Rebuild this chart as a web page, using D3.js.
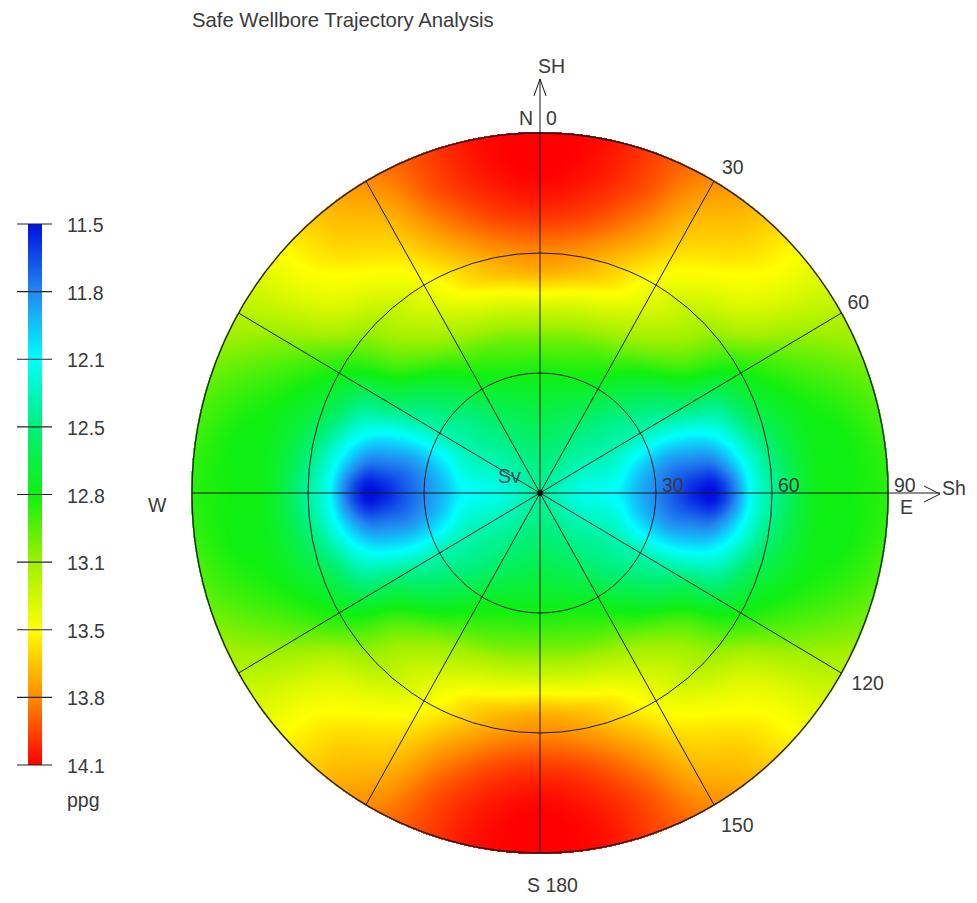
<!DOCTYPE html>
<html><head><meta charset="utf-8">
<script src="https://cdn.jsdelivr.net/npm/d3@7"></script>
<style>
body{margin:0;background:#fff;}
svg{display:block;font-family:"Liberation Sans",Arial,sans-serif;}
</style>
</head><body>
<svg id="chart" width="977" height="903"></svg>
<script>
// ---------- data ----------
const chartTitle = "Safe Wellbore Trajectory Analysis";
const colorTicks = [11.5, 11.8, 12.1, 12.5, 12.8, 13.1, 13.5, 13.8, 14.1];
const colorTickLabels = ["11.5", "11.8", "12.1", "12.5", "12.8", "13.1", "13.5", "13.8", "14.1"];
const colorStops = ["#0010e0", "#2288f0", "#00ffff", "#00f07a", "#10f010", "#a0f000", "#ffff00", "#ff8c00", "#ff0000"];
const unitLabel = "ppg";

// mud weight (ppg): azimuth from SH/North (one quadrant, mirrored) x inclination (deg)
const azimuths = [0, 10, 20, 30, 40, 50, 60, 70, 80, 90];
const inclinations = [0, 10, 20, 25, 30, 35, 40, 45, 50, 55, 60, 70, 80, 90];
const inc0  = [12.4, 12.4, 12.4, 12.4, 12.4, 12.4, 12.4, 12.4, 12.4, 12.4];
const inc10 = [12.5, 12.5, 12.48, 12.45, 12.4, 12.35, 12.3, 12.25, 12.2, 12.2];
const inc20 = [12.65, 12.63, 12.6, 12.55, 12.47, 12.42, 12.33, 12.25, 12.15, 12.08];
const inc25 = [12.72, 12.71, 12.68, 12.62, 12.52, 12.42, 12.33, 12.13, 11.98, 11.93];
const inc30 = [12.8, 12.8, 12.78, 12.72, 12.6, 12.48, 12.33, 12.05, 11.86, 11.8];
const inc35 = [12.92, 12.91, 12.88, 12.82, 12.7, 12.55, 12.36, 12.02, 11.77, 11.68];
const inc40 = [13.05, 13.03, 13.0, 12.95, 12.82, 12.65, 12.45, 12.05, 11.76, 11.55];
const inc45 = [13.25, 13.22, 13.18, 13.1, 12.98, 12.8, 12.55, 12.13, 11.78, 11.5];
const inc50 = [13.5, 13.45, 13.38, 13.25, 13.1, 12.92, 12.6, 12.27, 11.98, 11.75];
const inc55 = [13.7, 13.65, 13.55, 13.38, 13.2, 12.98, 12.7, 12.5, 12.25, 12.15];
const inc60 = [13.8, 13.75, 13.62, 13.45, 13.25, 13.05, 12.8, 12.65, 12.5, 12.4];
const inc70 = [14.0, 13.95, 13.8, 13.6, 13.47, 13.3, 12.97, 12.8, 12.75, 12.75];
const inc80 = [14.1, 14.05, 13.92, 13.7, 13.6, 13.42, 13.1, 12.9, 12.8, 12.8];
const inc90 = [14.1, 14.08, 13.95, 13.8, 13.65, 13.45, 13.2, 13.0, 12.9, 12.85];
const mudWeight = [inc0, inc10, inc20, inc25, inc30, inc35, inc40, inc45, inc50, inc55, inc60, inc70, inc80, inc90];

const spokeAngles = [0, 30, 60, 90, 120, 150, 180, 210, 240, 270, 300, 330];
const ringInclinations = [30, 60, 90];
const rimLabels = [
  {az: 30, text: "30"}, {az: 60, text: "60"}, {az: 120, text: "120"}, {az: 150, text: "150"}
];

// ---------- layout ----------
const cx = 540, cy = 493;
const rX = d3.scaleLinear().domain([0, 90]).range([0, 348]);
const rY = d3.scaleLinear().domain([0, 90]).range([0, 360]);
const color = d3.scaleLinear().domain(colorTicks).range(colorStops).interpolate(d3.interpolateRgb).clamp(true);

const svg = d3.select("#chart");
const textColor = "#3a3a3a";

// ---------- smooth field (cubic Hermite through the grid values) ----------
function tangents(t, v, zeroEnds) {
  const n = t.length, m = new Array(n);
  for (let k = 0; k < n; k++) {
    if (k === 0) m[k] = zeroEnds ? 0 : (v[1] - v[0]) / (t[1] - t[0]);
    else if (k === n - 1) m[k] = zeroEnds ? 0 : (v[n - 1] - v[n - 2]) / (t[n - 1] - t[n - 2]);
    else m[k] = (v[k + 1] - v[k - 1]) / (t[k + 1] - t[k - 1]);
  }
  return m;
}
function hermite(t, v, m, x) {
  let k = Math.min(Math.max(d3.bisectRight(t, x) - 1, 0), t.length - 2);
  const h = t[k + 1] - t[k], s = Math.max(0, Math.min(1, (x - t[k]) / h));
  const s2 = s * s, s3 = s2 * s;
  return (2 * s3 - 3 * s2 + 1) * v[k] + (s3 - 2 * s2 + s) * h * m[k] + (-2 * s3 + 3 * s2) * v[k + 1] + (s3 - s2) * h * m[k + 1];
}
const rowTangents = mudWeight.map(row => tangents(azimuths, row, true));
function valueAt(az, inc) {
  let a = ((az % 360) + 360) % 360;
  if (a > 180) a = 360 - a;
  if (a > 90) a = 180 - a;
  const col = mudWeight.map((row, r) => hermite(azimuths, row, rowTangents[r], a));
  const mt = tangents(inclinations, col, false);
  return hermite(inclinations, col, mt, inc);
}

const W = Math.ceil(rX(90) * 2) + 2, H = Math.ceil(rY(90) * 2) + 2;
const canvas = document.createElement("canvas");
canvas.width = W; canvas.height = H;
const ctx = canvas.getContext("2d");
const img = ctx.createImageData(W, H);
const ox = cx - W / 2, oy = cy - H / 2;
for (let py = 0; py < H; py++) {
  for (let px = 0; px < W; px++) {
    const X = ox + px + 0.5 - cx, Y = cy - (oy + py + 0.5);
    const dx = rX.invert(X), dy = rY.invert(Y);
    const inc = Math.sqrt(dx * dx + dy * dy);
    if (inc > 90.3) continue;
    const az = Math.atan2(dx, dy) * 180 / Math.PI;
    const c = d3.rgb(color(valueAt(az, Math.min(inc, 90))));
    const k = (py * W + px) * 4;
    img.data[k] = c.r; img.data[k + 1] = c.g; img.data[k + 2] = c.b; img.data[k + 3] = 255;
  }
}
ctx.putImageData(img, 0, 0);
svg.append("image").attr("x", ox).attr("y", oy).attr("width", W).attr("height", H)
  .attr("href", canvas.toDataURL());

// ---------- grid ----------
const g = svg.append("g").attr("fill", "none").attr("stroke", "#1a1a1a").attr("stroke-width", 1);
g.selectAll("ellipse").data(ringInclinations).join("ellipse")
  .attr("cx", cx).attr("cy", cy).attr("rx", d => rX(d)).attr("ry", d => rY(d))
  .attr("stroke-width", d => d === 90 ? 1.3 : 1);
const pt = (az, inc) => [cx + rX(inc) * Math.sin(az * Math.PI / 180), cy - rY(inc) * Math.cos(az * Math.PI / 180)];
g.selectAll("line.spoke").data(spokeAngles).join("line").attr("class", "spoke")
  .attr("x1", cx).attr("y1", cy)
  .attr("x2", d => pt(d, 90)[0]).attr("y2", d => pt(d, 90)[1]);
// axis extensions + arrows
g.append("line").attr("x1", cx).attr("y1", cy - rY(90)).attr("x2", cx).attr("y2", 79);
g.append("polyline").attr("points", `${cx - 6},96 ${cx},79 ${cx + 6},96`);
g.append("line").attr("x1", cx + rX(90)).attr("y1", cy).attr("x2", 940).attr("y2", cy);
g.append("polyline").attr("points", `924,486 940,494 924,502`);
svg.append("circle").attr("cx", cx).attr("cy", cy).attr("r", 3).attr("fill", "#111");

// ---------- labels ----------
const fs = 19.5;
const txt = (x, y, t, anchor = "start", col = textColor) =>
  svg.append("text").attr("x", x).attr("y", y).attr("text-anchor", anchor)
    .attr("font-size", fs).attr("fill", col).text(t);

svg.append("text").attr("x", 192).attr("y", 27).attr("font-size", 20.3).attr("fill", textColor).text(chartTitle);
txt(538, 73, "SH");
txt(533, 125, "N", "end");
txt(546, 125, "0");
rimLabels.forEach(d => {
  const [x, y] = pt(d.az, 90);
  if (d.az === 30) txt(x + 8, y - 7, d.text);
  else if (d.az === 60) txt(x + 6, y - 4, d.text);
  else if (d.az === 120) txt(x + 10, y + 17, d.text);
  else txt(x + 7, y + 27, d.text);
});
[30, 60, 90].forEach(d => txt(cx + rX(d) + 6, cy - 1, String(d)));
txt(900, 514, "E");
txt(942, 495, "Sh");
txt(148, 512, "W");
txt(498, 483, "Sv", "start", "#2e4e58");
txt(527, 892, "S 180");

// ---------- colorbar (evenly spaced ticks) ----------
const cbY = d3.scalePoint().domain(colorTicks).range([224, 765]);
const cbTop = cbY(colorTicks[0]), cbBot = cbY(colorTicks[colorTicks.length - 1]);
const defs = svg.append("defs");
const grad = defs.append("linearGradient").attr("id", "cb").attr("x1", 0).attr("y1", 0).attr("x2", 0).attr("y2", 1);
colorTicks.forEach((t, i) => grad.append("stop")
  .attr("offset", (cbY(t) - cbTop) / (cbBot - cbTop))
  .attr("stop-color", colorStops[i]));
svg.append("rect").attr("x", 28).attr("y", cbTop).attr("width", 14)
  .attr("height", cbBot - cbTop).attr("fill", "url(#cb)");
svg.append("g").selectAll("line").data(colorTicks).join("line")
  .attr("x1", 17).attr("x2", 52).attr("y1", d => cbY(d)).attr("y2", d => cbY(d))
  .attr("stroke", "#222").attr("stroke-width", 1.2);
svg.append("g").selectAll("text").data(colorTicks).join("text")
  .attr("x", 67).attr("y", d => cbY(d) + 8).attr("font-size", fs).attr("fill", textColor)
  .text((d, i) => colorTickLabels[i]);
txt(67, 807, unitLabel);
</script>
</body></html>
